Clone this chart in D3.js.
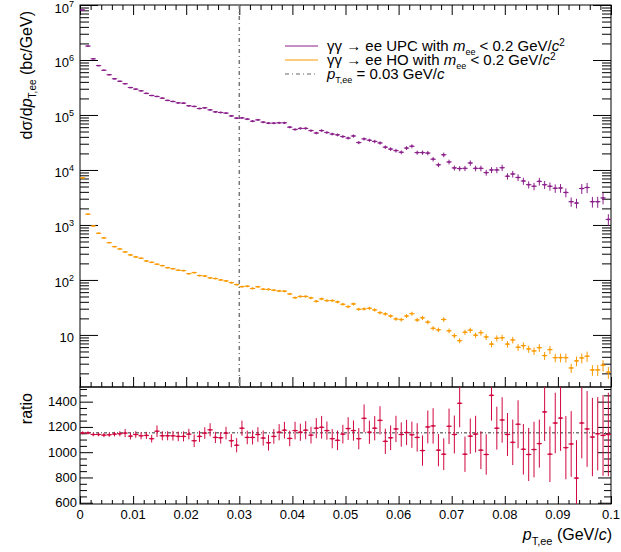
<!DOCTYPE html>
<html>
<head>
<meta charset="utf-8">
<script src="https://cdn.jsdelivr.net/npm/d3@7/dist/d3.min.js"></script>
<style>
  body { margin: 0; background: #fff; }
  text { font-family: "Liberation Sans", Arial, Helvetica, sans-serif; fill: #000; }
</style>
</head>
<body>
<svg id="chart" width="621" height="552"></svg>
<script>
// binning of p_T,ee (GeV/c): 100 bins of 0.001 from 0 to 0.1
var nBins = 100;
var binWidth = 0.001;

// dsigma/dpT for gamma gamma -> ee UPC (purple)
var upcValues = [
  8.1e6, 1.79e6, 1.05e6, 7.9e5, 6.5e5, 5.4e5, 4.55e5, 4.1e5, 3.7e5, 3.15e5,
  2.95e5, 2.75e5, 2.47e5, 2.26e5, 2.17e5, 2.02e5, 1.84e5, 1.76e5, 1.66e5, 1.64e5,
  1.47e5, 1.43e5, 1.31e5, 1.35e5, 1.24e5, 1.14e5, 1.11e5, 1.08e5, 9.6e4, 8.75e4,
  8.85e4, 8.4e4, 7.7e4, 8.15e4, 7.4e4, 7.1e4, 7.1e4, 7.2e4, 7.2e4, 6.0e4,
  5.45e4, 5.7e4, 5.7e4, 5.2e4, 4.7e4, 5.2e4, 4.8e4, 4.5e4, 4.35e4, 4.05e4,
  3.8e4, 4.15e4, 3.15e4, 3.67e4, 3.47e4, 3.3e4, 3.1e4, 2.6e4, 2.4e4, 2.25e4,
  2.1e4, 2.5e4, 2.7e4, 2.07e4, 2.07e4, 2.03e4, 1.57e4, 1.24e4, 1.89e4, 1.4e4,
  1.09e4, 1.06e4, 1.07e4, 1.34e4, 1.07e4, 1.07e4, 8.95e3, 1.0e4, 1.0e4, 1.1e4,
  7.7e3, 8.45e3, 7.3e3, 6.3e3, 5.4e3, 5.05e3, 6.2e3, 5.4e3, 5.05e3, 4.65e3,
  4.7e3, 3.9e3, 2.65e3, 2.5e3, 4.6e3, 4.8e3, 2.65e3, 2.65e3, 3.1e3, 1.26e3
];

// dsigma/dpT for gamma gamma -> ee HO (orange)
var hoValues = [
  7200, 1570, 960, 706, 581, 476, 403, 366, 323, 285,
  262, 248, 221, 209, 193, 182, 167, 160, 150, 148,
  130, 136, 120, 118, 109, 106, 100, 96, 89.3, 82.2,
  75.5, 76.7, 70, 75.2, 67.8, 67.3, 65, 63.1, 62.4, 55.6,
  47.6, 50.1, 50.1, 47.1, 40.9, 45.2, 42.1, 42.1, 39.8, 36.1,
  32.7, 36.6, 29.3, 29.7, 30.5, 28.5, 25.4, 24.1, 22.1, 19.5,
  19.0, 22.1, 24.4, 18.7, 20.5, 17.1, 13.2, 12.4, 19.1, 11.9,
  9.7, 7.87, 11.2, 12.2, 9.9, 11.0, 9.2, 6.8, 8.7, 8.9,
  6.8, 8.1, 5.97, 6.38, 5.56, 5.12, 5.87, 4.21, 5.41, 3.86,
  3.86, 3.86, 2.51, 3.37, 3.82, 4.1, 2.31, 2.31, 2.81, 2.1
];

// relative statistical error of both spectra
var relErrors = [
  0.01, 0.01, 0.01, 0.012, 0.012, 0.013, 0.014, 0.015, 0.016, 0.017,
  0.018, 0.019, 0.02, 0.021, 0.022, 0.023, 0.024, 0.025, 0.026, 0.027,
  0.028, 0.029, 0.03, 0.031, 0.032, 0.033, 0.034, 0.035, 0.036, 0.038,
  0.039, 0.04, 0.041, 0.042, 0.043, 0.044, 0.045, 0.046, 0.047, 0.048,
  0.05, 0.051, 0.052, 0.053, 0.055, 0.056, 0.057, 0.058, 0.06, 0.061,
  0.063, 0.064, 0.066, 0.067, 0.069, 0.07, 0.072, 0.074, 0.076, 0.078,
  0.08, 0.082, 0.084, 0.086, 0.088, 0.09, 0.093, 0.095, 0.097, 0.1,
  0.103, 0.106, 0.109, 0.112, 0.115, 0.118, 0.121, 0.124, 0.127, 0.13,
  0.134, 0.138, 0.142, 0.146, 0.15, 0.155, 0.16, 0.165, 0.17, 0.175,
  0.18, 0.186, 0.192, 0.2, 0.206, 0.212, 0.22, 0.228, 0.236, 0.245
];

// ratio UPC / HO and its error
var ratioValues = [
  1153, 1153, 1140, 1140, 1135, 1138, 1143, 1146, 1151, 1127,
  1140, 1130, 1133, 1107, 1166, 1130, 1130, 1130, 1125, 1125,
  1143, 1091, 1125, 1151, 1177, 1117, 1114, 1151, 1091, 1055,
  1190, 1117, 1117, 1140, 1112, 1075, 1125, 1158, 1174, 1109,
  1171, 1158, 1174, 1135, 1190, 1197, 1171, 1107, 1094, 1143,
  1187, 1171, 1107, 1268, 1158, 1190, 1252, 1086, 1114, 1184,
  1140, 1156, 1138, 1117, 1013, 1200, 1208, 1016, 984, 1205,
  1140, 1387, 984, 1127, 1143, 1016, 982, 1450, 1190, 1255,
  1140, 1078, 1221, 1023, 982, 1021, 1068, 1319, 984, 1231,
  1270, 1036, 1065, 795, 1231, 1184, 1120, 1146, 1133, 1140
];
var ratioErrors = [
  12, 12, 14, 14, 16, 16, 18, 20, 32, 26,
  26, 28, 28, 30, 46, 36, 36, 38, 38, 40,
  42, 50, 44, 46, 52, 44, 46, 50, 52, 56,
  60, 54, 56, 58, 60, 62, 58, 64, 66, 62,
  70, 68, 72, 66, 80, 90, 72, 76, 78, 74,
  90, 80, 84, 110, 92, 96, 112, 100, 98, 104,
  96, 100, 104, 112, 120, 130, 140, 128, 126, 140,
  150, 190, 140, 140, 145, 150, 160, 200, 170, 180,
  170, 180, 190, 200, 210, 220, 190, 230, 220, 240,
  260, 250, 260, 300, 280, 300, 310, 290, 320, 330
];
var ratioFit = 1153;
var ptCut = 0.03;

var yMajors = [1e1, 1e2, 1e3, 1e4, 1e5, 1e6, 1e7];
var ratioMajors = [600, 800, 1000, 1200, 1400];
var xMajors = [0, 0.01, 0.02, 0.03, 0.04, 0.05, 0.06, 0.07, 0.08, 0.09, 0.1];

var colUpc = '#8a1f8a';
var colHo = '#f99a00';
var colRatio = '#d0073f';

var svg = d3.select('#chart');
svg.append('rect').attr('width', 621).attr('height', 552).attr('fill', '#fff');

// pads (note: "top" is reserved on window, so use padXxx names)
var padLeft = 80, padRight = 611, padTop = 5, padMid = 387, padBottom = 504;

var x = d3.scaleLinear().domain([0, 0.1]).range([padLeft, padRight]);
var yTop = d3.scaleLog().domain([1.13, 1e7]).range([padMid, padTop]);
var yRat = d3.scaleLinear().domain([590, 1516]).range([padBottom, padMid]);

var centers = d3.range(nBins).map(i => (i + 0.5) * binWidth);

// minor tick positions
var yMinors = [];
for (var e = 0; e < 7; e++) {
    for (var k = 2; k <= 9; k++) yMinors.push(k * Math.pow(10, e));
}
yMinors = yMinors.filter(v => v > 1.13 && v < 1e7);
var xMinors = d3.range(0, 51).map(i => i * 0.002).filter(v => xMajors.every(m => Math.abs(m - v) > 1e-9));
var ratioMinors = d3.range(600, 1501, 50).filter(v => ratioMajors.indexOf(v) < 0);

function ticks(axis, transform, values, size) {
    svg.append('g')
        .attr('transform', transform)
        .call(axis.tickValues(values).tickSize(size).tickFormat(''))
        .call(g => g.select('.domain').remove())
        .call(g => g.selectAll('line').attr('stroke', '#000'));
}

// upper pad ticks
ticks(d3.axisLeft(yTop), 'translate(' + padLeft + ',0)', yMajors, -18);
ticks(d3.axisLeft(yTop), 'translate(' + padLeft + ',0)', yMinors, -9);
ticks(d3.axisRight(yTop), 'translate(' + padRight + ',0)', yMajors, -18);
ticks(d3.axisRight(yTop), 'translate(' + padRight + ',0)', yMinors, -9);
ticks(d3.axisTop(x), 'translate(0,' + padTop + ')', xMajors, -10);
ticks(d3.axisTop(x), 'translate(0,' + padTop + ')', xMinors, -5);
ticks(d3.axisBottom(x), 'translate(0,' + padMid + ')', xMajors, -10);
ticks(d3.axisBottom(x), 'translate(0,' + padMid + ')', xMinors, -5);

// lower pad ticks
ticks(d3.axisLeft(yRat), 'translate(' + padLeft + ',0)', ratioMajors, -13);
ticks(d3.axisLeft(yRat), 'translate(' + padLeft + ',0)', ratioMinors, -7);
ticks(d3.axisRight(yRat), 'translate(' + padRight + ',0)', ratioMajors, -13);
ticks(d3.axisRight(yRat), 'translate(' + padRight + ',0)', ratioMinors, -7);
ticks(d3.axisBottom(x), 'translate(0,' + padBottom + ')', xMajors, -8);
ticks(d3.axisBottom(x), 'translate(0,' + padBottom + ')', xMinors, -4);

// frames
svg.append('rect').attr('x', padLeft).attr('y', padTop).attr('width', padRight - padLeft).attr('height', padMid - padTop)
    .attr('fill', 'none').attr('stroke', '#000');
svg.append('rect').attr('x', padLeft).attr('y', padMid).attr('width', padRight - padLeft).attr('height', padBottom - padMid)
    .attr('fill', 'none').attr('stroke', '#000');

// tick labels
svg.append('g').selectAll('text').data(yMajors).enter().append('text')
    .attr('x', 74).attr('y', d => yTop(d) + 7.5)
    .attr('text-anchor', 'end').style('font-size', '13px')
    .each(function (d) {
        var t = d3.select(this);
        var ex = Math.round(Math.log10(d));
        t.append('tspan').text('10');
        if (ex > 1) t.append('tspan').attr('dy', -6).style('font-size', '9px').text(ex);
    });

svg.append('g').selectAll('text').data(ratioMajors).enter().append('text')
    .attr('x', 77).attr('y', d => yRat(d) + 4.5)
    .attr('text-anchor', 'end').style('font-size', '13px')
    .text(d => d);

svg.append('g').selectAll('text').data(xMajors).enter().append('text')
    .attr('x', d => x(d)).attr('y', 519)
    .attr('text-anchor', 'middle').style('font-size', '13px')
    .text(d => d === 0 ? '0' : String(+d.toFixed(2)));

// axis titles
var yt = svg.append('text')
    .attr('transform', 'translate(32,11) rotate(-90)')
    .attr('text-anchor', 'end').style('font-size', '16px');
yt.append('tspan').text('d\u03c3/d');
yt.append('tspan').style('font-style', 'italic').text('p');
yt.append('tspan').attr('dy', 4).style('font-size', '10px').text('T,ee');
yt.append('tspan').attr('dy', -4).text(' (bc/GeV)');

svg.append('text')
    .attr('transform', 'translate(32,393) rotate(-90)')
    .attr('text-anchor', 'end').style('font-size', '16px')
    .text('ratio');

var xt = svg.append('text')
    .attr('x', 612).attr('y', 540)
    .attr('text-anchor', 'end').style('font-size', '16px');
xt.append('tspan').style('font-style', 'italic').text('p');
xt.append('tspan').attr('dy', 5).style('font-size', '11px').text('T,ee');
xt.append('tspan').attr('dy', -5).text(' (GeV/');
xt.append('tspan').style('font-style', 'italic').text('c');
xt.append('tspan').text(')');

// clip paths for the two pads
var defs = svg.append('defs');
defs.append('clipPath').attr('id', 'clipTop').append('rect')
    .attr('x', padLeft).attr('y', padTop).attr('width', padRight - padLeft).attr('height', padMid - padTop);
defs.append('clipPath').attr('id', 'clipRat').append('rect')
    .attr('x', padLeft).attr('y', padMid).attr('width', padRight - padLeft).attr('height', padBottom - padMid);

// vertical line at the pT cut
svg.append('line')
    .attr('x1', x(ptCut)).attr('x2', x(ptCut)).attr('y1', padTop).attr('y2', padMid)
    .attr('stroke', '#777').attr('stroke-width', 1.5).attr('stroke-dasharray', '4,3,1,3');

// horizontal fit line in the ratio pad
svg.append('line')
    .attr('x1', padLeft).attr('x2', padRight).attr('y1', yRat(ratioFit)).attr('y2', yRat(ratioFit))
    .attr('stroke', '#777').attr('stroke-width', 1.5).attr('stroke-dasharray', '3,2,1,2');

// points with error bars
function drawPoints(clip, yScale, vals, lo, hi, color) {
    var g = svg.append('g').attr('clip-path', 'url(#' + clip + ')')
        .attr('stroke', color).attr('stroke-width', 1);
    var pts = centers.map((c, i) => ({ c: c, v: vals[i], lo: lo[i], hi: hi[i] }))
        .filter(d => d.v != null);
    g.selectAll('line.ey').data(pts).enter().append('line')
        .attr('class', 'ey')
        .attr('x1', d => x(d.c)).attr('x2', d => x(d.c))
        .attr('y1', d => yScale(d.lo)).attr('y2', d => yScale(d.hi));
    g.selectAll('line.ex').data(pts).enter().append('line')
        .attr('class', 'ex')
        .attr('x1', d => x(d.c - binWidth / 2)).attr('x2', d => x(d.c + binWidth / 2))
        .attr('y1', d => yScale(d.v)).attr('y2', d => yScale(d.v));
    g.selectAll('line.mk').data(pts).enter().append('line')
        .attr('class', 'mk')
        .attr('x1', d => x(d.c) - 1.5).attr('x2', d => x(d.c) + 1.5)
        .attr('y1', d => yScale(d.v)).attr('y2', d => yScale(d.v))
        .attr('stroke-width', 1.5);
}

drawPoints('clipTop', yTop, upcValues,
    upcValues.map((v, i) => v * (1 - relErrors[i])), upcValues.map((v, i) => v * (1 + relErrors[i])), colUpc);
drawPoints('clipTop', yTop, hoValues,
    hoValues.map((v, i) => v * (1 - relErrors[i])), hoValues.map((v, i) => v * (1 + relErrors[i])), colHo);
drawPoints('clipRat', yRat, ratioValues,
    ratioValues.map((v, i) => v - ratioErrors[i]), ratioValues.map((v, i) => v + ratioErrors[i]), colRatio);

// legend
var legend = svg.append('g');
var rows = [
    { y: 46, color: colUpc, dash: null, label: 'UPC' },
    { y: 60, color: colHo, dash: null, label: 'HO' },
    { y: 74, color: '#666', dash: '4,3,1,3', label: null }
];
rows.forEach(function (r) {
    legend.append('line')
        .attr('x1', 285).attr('x2', 318).attr('y1', r.y).attr('y2', r.y)
        .attr('stroke', r.color).attr('stroke-width', 1)
        .attr('stroke-dasharray', r.dash);
    var t = legend.append('text').attr('x', 327).attr('y', r.y + 5).style('font-size', '15px');
    if (r.label) {
        t.append('tspan').text('\u03b3\u03b3 \u2192 ee ' + r.label + ' with ');
        t.append('tspan').style('font-style', 'italic').text('m');
        t.append('tspan').attr('dy', 4).style('font-size', '9px').text('ee');
        t.append('tspan').attr('dy', -4).text(' < 0.2 GeV/');
        t.append('tspan').style('font-style', 'italic').text('c');
        t.append('tspan').attr('dy', -5).style('font-size', '10px').text('2');
    } else {
        t.append('tspan').style('font-style', 'italic').text('p');
        t.append('tspan').attr('dy', 4).style('font-size', '9px').text('T,ee');
        t.append('tspan').attr('dy', -4).text(' = 0.03 GeV/');
        t.append('tspan').style('font-style', 'italic').text('c');
    }
});
</script>
</body>
</html>
